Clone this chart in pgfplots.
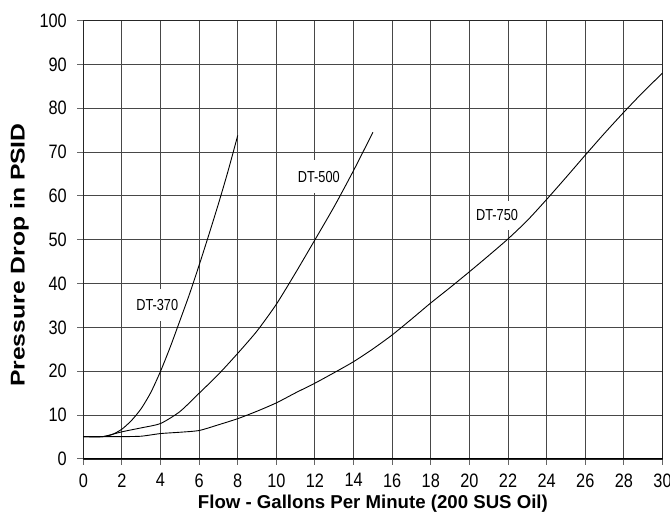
\documentclass[border=0pt]{standalone}
\usepackage{pgfplots}
\pgfplotsset{compat=1.18}
\usepackage{fontspec}
\setmainfont{Liberation Sans}
\newfontfamily\tickfont[FakeStretch=0.84]{Liberation Sans}
\newfontfamily\curvefont[FakeStretch=0.8]{Liberation Sans}
\newfontfamily\ylabfont[FakeStretch=1.24]{Liberation Sans}
\pgfplotstableread{
x y
0 5.1
1 5.1
1.5 5.6
2 6.8
2.5 8.8
3 11.5
3.5 15.2
4 20
4.5 25.5
5 31.5
5.5 37.6
6 44.2
6.5 51.1
7 58.2
7.5 65.7
8 73.8
}\dtthree
\pgfplotstableread{
x y
0 5.1
1 5.1
2 6.2
3 7.1
4 8.1
5 10.8
6 15
7 19.3
8 24.1
9 29.2
10 35.3
11 42.5
12 50
13 57.6
14 65.8
15 74.5
}\dtfive
\pgfplotstableread{
x y
0 5.1
1 5.1
2 5.1
3 5.2
4 5.8
5 6.1
6 6.5
7 7.8
8 9.2
9 10.9
10 12.8
11 15.1
12 17.3
13 19.7
14 22.2
15 25.1
16 28.3
17 31.9
18 35.6
19 39.1
20 42.7
21 46.4
22 50.2
23 54.4
24 59.2
25 64.2
26 69.3
27 74.3
28 79.1
29 83.7
30 88
}\dtseven
\begin{document}
\begin{tikzpicture}
\begin{axis}[
  scale only axis, width=579.2bp, height=438.5bp,
  xmin=0, xmax=30, ymin=0, ymax=100,
  xtick={0,2,...,30}, ytick={0,10,...,100},
  grid=major, grid style={line width=1bp, black!72},
  axis line style={line width=1.5bp, black!85},
  tick align=outside, major tick length=6bp,
  tick style={line width=1bp, black!60},
  xtick pos=bottom, ytick pos=left,
  /pgf/number format/assume math mode=true,
  ticklabel style={font=\tickfont\fontsize{19.5}{19.5}\selectfont},
  xticklabel style={yshift=-5bp},
  yticklabel style={xshift=-7bp},
  xlabel={Flow - Gallons Per Minute (200 SUS Oil)},
  ylabel={Pressure Drop in PSID},
  xlabel style={font=\bfseries\fontsize{18.7}{18.7}\selectfont, at={(axis description cs:0.5,-0.1015)}, anchor=center},
  ylabel style={font=\ylabfont\bfseries\fontsize{20}{20}\selectfont, at={(axis description cs:-0.1102,0.465)}, anchor=center},
]
\node[fill=white, inner xsep=2bp, inner ysep=10bp, font=\curvefont\fontsize{16}{16}\selectfont] at (axis cs:3.83,35.1) {DT-370};
\node[fill=white, inner xsep=2bp, inner ysep=11bp, font=\curvefont\fontsize{16}{16}\selectfont] at (axis cs:12.2,64.4) {DT-500};
\node[fill=white, inner xsep=2bp, inner ysep=9bp, font=\curvefont\fontsize{16}{16}\selectfont] at (axis cs:21.43,55.6) {DT-750};
\addplot[black, line width=0.9bp, smooth, tension=0.4] table[x=x,y=y] {\dtthree};
\addplot[black, line width=0.9bp, smooth, tension=0.4] table[x=x,y=y] {\dtfive};
\addplot[black, line width=0.9bp, smooth, tension=0.4] table[x=x,y=y] {\dtseven};
\draw[line width=2.6bp, black] (rel axis cs:0,0) -- (rel axis cs:1,0);
\end{axis}
\pgfresetboundingbox
\path[use as bounding box] ([shift={(-83.3bp,-65bp)}]current axis.south west) rectangle ([shift={(7.5bp,20.5bp)}]current axis.north east);
\end{tikzpicture}
\end{document}
